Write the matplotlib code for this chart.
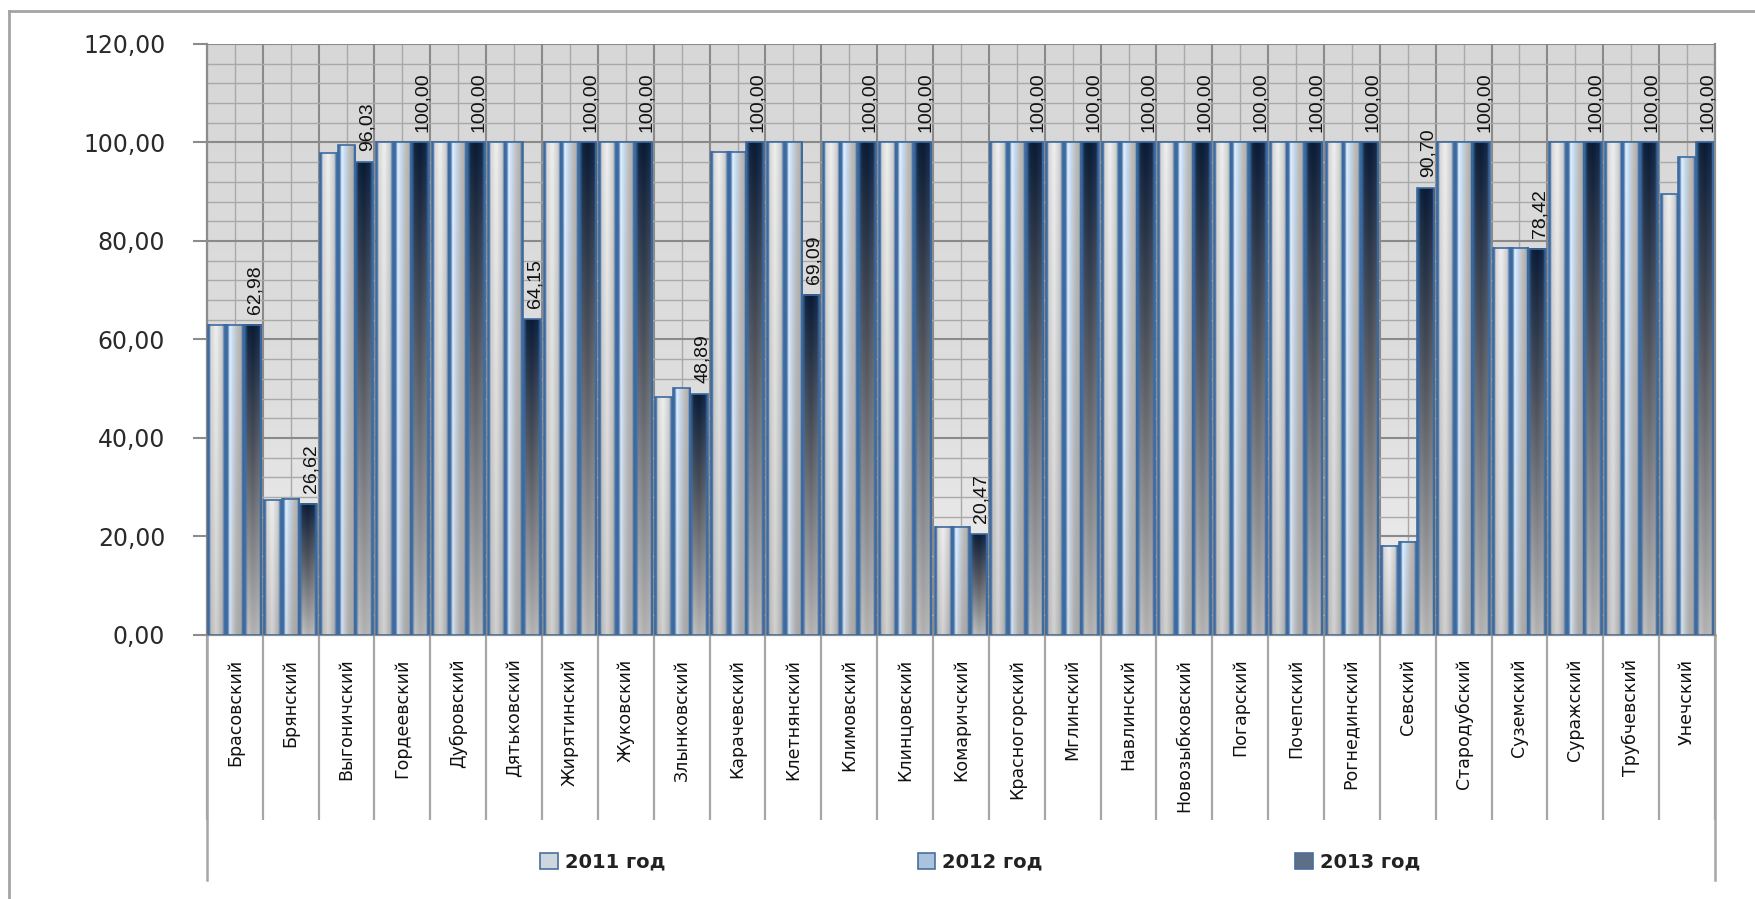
import matplotlib.pyplot as plt
import numpy as np
from matplotlib.lines import Line2D
from matplotlib.patches import Patch

districts = ["Брасовский", "Брянский", "Выгоничский", "Гордеевский", "Дубровский",
             "Дятьковский", "Жирятинский", "Жуковский", "Злынковский", "Карачевский",
             "Клетнянский", "Климовский", "Клинцовский", "Комаричский", "Красногорский",
             "Мглинский", "Навлинский", "Новозыбковский", "Погарский", "Почепский",
             "Рогнединский", "Севский", "Стародубский", "Суземский", "Суражский",
             "Трубчевский", "Унечский"]

vals_2011 = [63.0, 27.4, 97.8, 100, 100, 100, 100, 100, 48.3, 98.1, 100, 100, 100, 22.0,
             100, 100, 100, 100, 100, 100, 100, 18.1, 100, 78.6, 100, 100, 89.5]
vals_2012 = [63.0, 27.7, 99.4, 100, 100, 100, 100, 100, 50.1, 98.1, 100, 100, 100, 22.0,
             100, 100, 100, 100, 100, 100, 100, 18.9, 100, 78.6, 100, 100, 97.0]
vals_2013 = [62.98, 26.62, 96.03, 100, 100, 64.15, 100, 100, 48.89, 100, 69.09, 100, 100, 20.47,
             100, 100, 100, 100, 100, 100, 100, 90.70, 100, 78.42, 100, 100, 100]

series_labels = ["2011 год", "2012 год", "2013 год"]
yticks = [0, 20, 40, 60, 80, 100, 120]


def hex2rgb(h):
    h = h.lstrip('#')
    return np.array([int(h[i:i + 2], 16) / 255 for i in (0, 2, 4)])


def profile(stops, n=40):
    # horizontal colour profile across a bar
    u = np.linspace(0, 1, n)
    pos = [s[0] for s in stops]
    cols = np.array([hex2rgb(s[1]) for s in stops])
    return np.stack([np.interp(u, pos, cols[:, c]) for c in range(3)], axis=-1)


def gradient(rows, n_v=80):
    # rows: list of (v, stops) from top (v=0) to bottom (v=1)
    v = np.linspace(0, 1, n_v)
    vs = [r[0] for r in rows]
    profs = np.array([profile(r[1]) for r in rows])
    img = np.empty((n_v, profs.shape[1], 3))
    for c in range(3):
        for j in range(profs.shape[1]):
            img[:, j, c] = np.interp(v, vs, profs[:, j, c])
    return img


BLUE = '#3f6ea6'
grad_2011 = gradient([
    (0.0, [(0, BLUE), (0.07, BLUE), (0.14, '#d6d6d6'), (0.45, '#efefef'), (0.8, '#cecece'), (0.92, BLUE), (1, BLUE)]),
    (1.0, [(0, BLUE), (0.07, BLUE), (0.14, '#bababa'), (0.45, '#d2d2d2'), (0.8, '#b0b0b0'), (0.92, BLUE), (1, BLUE)]),
])
grad_2012 = gradient([
    (0.0, [(0, BLUE), (0.09, BLUE), (0.2, '#e4f1ff'), (0.38, '#c4dbf4'), (0.6, '#c2c2c2'), (0.85, '#b0b0b0'), (0.93, BLUE), (1, BLUE)]),
    (1.0, [(0, BLUE), (0.09, BLUE), (0.2, '#d6e2ee'), (0.38, '#c0c6ce'), (0.6, '#adadad'), (0.85, '#a6a6a6'), (0.93, BLUE), (1, BLUE)]),
])
grad_2013 = gradient([
    (0.0, [(0, '#2f5a8c'), (0.07, '#2f5a8c'), (0.2, '#10243f'), (0.5, '#0b1b33'), (0.85, '#14284a'), (0.93, '#2f5a8c'), (1, '#2f5a8c')]),
    (0.45, [(0, BLUE), (0.07, BLUE), (0.2, '#5e626b'), (0.5, '#53575f'), (0.85, '#666a72'), (0.93, BLUE), (1, BLUE)]),
    (1.0, [(0, BLUE), (0.07, BLUE), (0.2, '#c2c2c2'), (0.5, '#b0b0b0'), (0.85, '#b8b8b8'), (0.93, BLUE), (1, BLUE)]),
])

fig = plt.figure(figsize=(17.55, 8.99), dpi=100)
ax = fig.add_axes([0.1179, 0.2937, 0.8593, 0.6574])

n = len(districts)
x = np.arange(n)
w = 0.315

# plot background: light gray fading lighter towards the bottom
bg = gradient([(0.0, [(0, '#d7d7d7'), (1, '#d7d7d7')]),
               (0.6, [(0, '#dedede'), (1, '#dedede')]),
               (1.0, [(0, '#f0f0f0'), (1, '#f0f0f0')])], n_v=60)
ax.imshow(bg, extent=[0, 1, 0, 1], transform=ax.transAxes, aspect='auto', zorder=0)

series = [(vals_2011, grad_2011, -w), (vals_2012, grad_2012, 0.0), (vals_2013, grad_2013, w)]
bar_groups = []
for vals, grad, off in series:
    bars = ax.bar(x + off, vals, w, facecolor='none', edgecolor='#3d6a9e', linewidth=1.2, zorder=4)
    for r in bars:
        ax.imshow(grad, extent=[r.get_x(), r.get_x() + r.get_width(), 0, r.get_height()],
                  aspect='auto', interpolation='bilinear', zorder=3)
    bar_groups.append(bars)

# data labels on 2013 series
for r, v in zip(bar_groups[2], vals_2013):
    ax.text(r.get_x() + r.get_width() / 2 + 0.05, r.get_height() + 2.2, f"{v:.2f}".replace('.', ','),
            rotation=90, ha='center', va='bottom', fontsize=14,
            family=['Liberation Sans Narrow', 'Liberation Sans'], color='#111111', zorder=6)

ax.set_xlim(-0.5, n - 0.5)
ax.set_ylim(0, 120)

# y axis
ax.set_yticks(yticks)
ax.set_yticklabels([f"{t:.2f}".replace('.', ',') for t in yticks])
ax.set_yticks(np.arange(0, 121, 4), minor=True)
ax.tick_params(axis='y', which='major', length=10, width=1.5, color='#8c8c8c', direction='out',
               labelsize=17, labelcolor='#2a2a2a', pad=20)
ax.tick_params(axis='y', which='minor', length=0)

# x axis: separators at category boundaries, labels at centres
ax.set_xticks(np.arange(-0.5, n, 1.0))
ax.set_xticklabels([])
ax.set_xticks(x, minor=True)
ax.set_xticklabels(districts, minor=True, rotation=90, va='top', ha='center')
ax.tick_params(axis='x', which='major', length=133, width=1.6, color='#a6a6a6', direction='out')
ax.tick_params(axis='x', which='minor', length=0, pad=17, labelsize=12.5, labelcolor='#111111')

ax.set_axisbelow(True)
ax.grid(which='major', axis='y', color='#8a8a8a', linewidth=1.5)
ax.grid(which='minor', axis='y', color='#a9a9a9', linewidth=1.0)
ax.grid(which='major', axis='x', color='#8a8a8a', linewidth=1.5)
ax.grid(which='minor', axis='x', color='#a9a9a9', linewidth=1.0)

for s in ['left', 'right', 'bottom', 'top']:
    ax.spines[s].set_color('#8c8c8c')
    ax.spines[s].set_linewidth(1.6)
ax.spines['top'].set_visible(False)

# outer lines of the category box
ext = -(880 - 635) / 591
for xa in (0, 1):
    ax.plot([xa, xa], [0, ext], transform=ax.transAxes, color='#a6a6a6', lw=1.8, clip_on=False)

# legend
handles = [Patch(facecolor=c, edgecolor='#4a6f9c', linewidth=1.2) for c in ('#cfd6de', '#a9c2de', '#5d6e88')]
fig.legend(handles, series_labels, loc='center', bbox_to_anchor=(0.5585, 1 - 862 / 899), ncol=3,
           frameon=False, columnspacing=13, handlelength=0.9, handleheight=0.9, handletextpad=0.35,
           prop={'size': 14, 'weight': 'bold', 'family': 'DejaVu Sans'}, labelcolor='#222222')

# outer frame
fig.add_artist(Line2D([0.0051, 0.0051], [0, 0.9878], transform=fig.transFigure, color='#a3a3a3', lw=2))
fig.add_artist(Line2D([0.0051, 1.0], [0.9878, 0.9878], transform=fig.transFigure, color='#a3a3a3', lw=2))

fig.savefig('out.png', dpi=100, facecolor='white')
